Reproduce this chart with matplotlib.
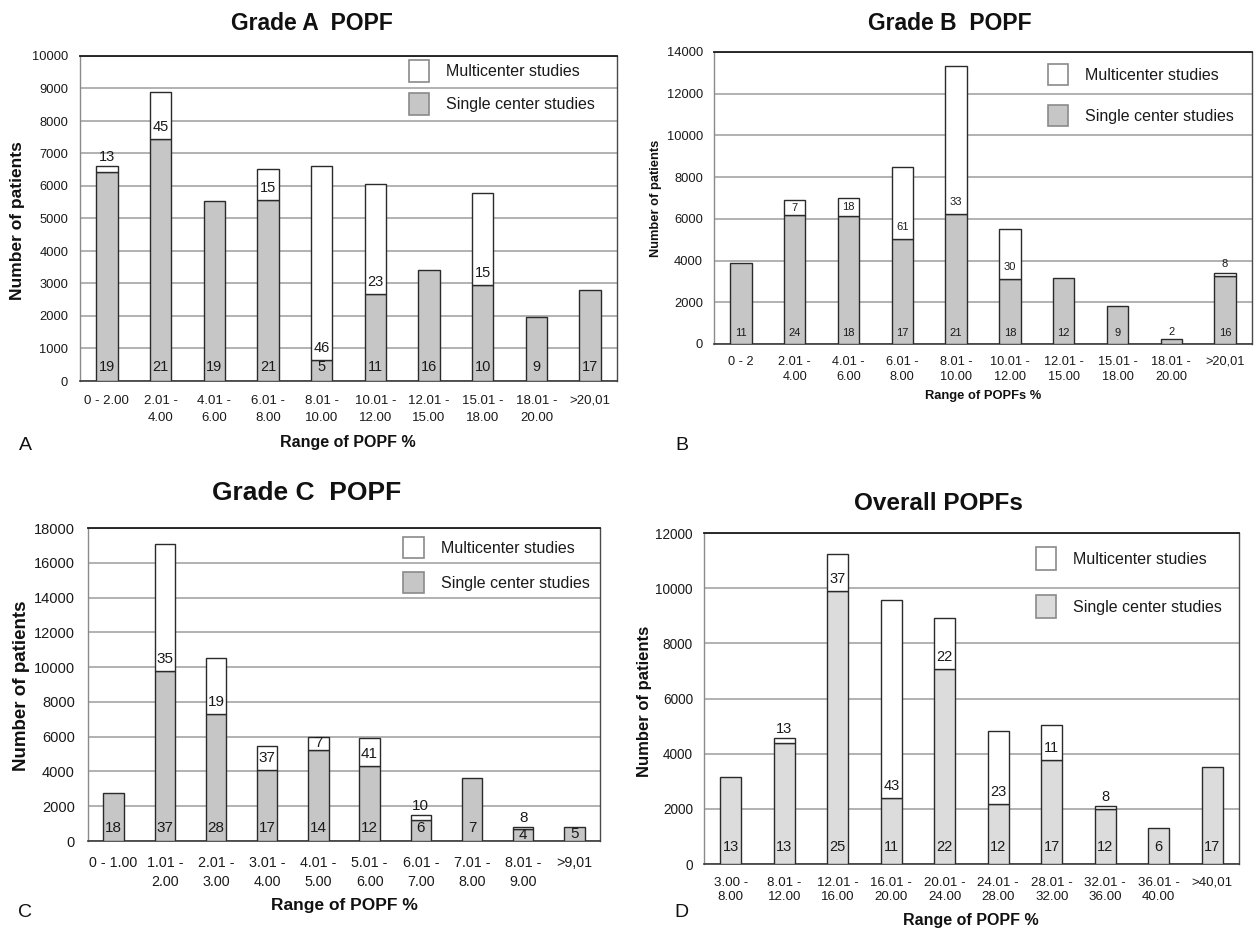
import matplotlib
matplotlib.use('Agg')
import matplotlib.pyplot as plt
from matplotlib.patches import Rectangle
import numpy as np

plt.rcParams['font.family'] = ['Liberation Sans', 'DejaVu Sans']

# ---------------- data ----------------
A_cats = ['0 - 2.00', '2.01 -\n4.00', '4.01 -\n6.00', '6.01 -\n8.00', '8.01 -\n10.00',
          '10.01 -\n12.00', '12.01 -\n15.00', '15.01 -\n18.00', '18.01 -\n20.00', '>20,01']
A_single = [6420, 7435, 5540, 5570, 650, 2665, 3415, 2955, 1980, 2800]
A_multi = [200, 1465, 0, 950, 5975, 3385, 0, 2820, 0, 0]
A_single_n = [19, 21, 19, 21, 5, 11, 16, 10, 9, 17]
A_multi_n = [13, 45, None, 15, 46, 23, None, 15, None, None]

B_cats = ['0 - 2', '2.01 -\n4.00', '4.01 -\n6.00', '6.01 -\n8.00', '8.01 -\n10.00',
          '10.01 -\n12.00', '12.01 -\n15.00', '15.01 -\n18.00', '18.01 -\n20.00', '>20,01']
B_single = [3900, 6180, 6140, 5020, 6230, 3120, 3180, 1820, 240, 3260]
B_multi = [0, 720, 850, 3450, 7110, 2410, 0, 0, 0, 130]
B_single_n = [11, 24, 18, 17, 21, 18, 12, 9, 2, 16]
B_multi_n = [None, 7, 18, 61, 33, 30, None, None, None, 8]

C_cats = ['0 - 1.00', '1.01 -\n2.00', '2.01 -\n3.00', '3.01 -\n4.00', '4.01 -\n5.00',
          '5.01 -\n6.00', '6.01 -\n7.00', '7.01 -\n8.00', '8.01 -\n9.00', '>9,01']
C_single = [2780, 9780, 7290, 4080, 5230, 4310, 1210, 3600, 670, 820]
C_multi = [0, 7300, 3210, 1380, 770, 1630, 270, 0, 150, 0]
C_single_n = [18, 37, 28, 17, 14, 12, 6, 7, 4, 5]
C_multi_n = [None, 35, 19, 37, 7, 41, 10, None, 8, None]

D_cats = ['3.00 -\n8.00', '8.01 -\n12.00', '12.01 -\n16.00', '16.01 -\n20.00', '20.01 -\n24.00',
          '24.01 -\n28.00', '28.01 -\n32.00', '32.01 -\n36.00', '36.01 -\n40.00', '>40,01']
D_single = [3170, 4380, 9900, 2380, 7060, 2180, 3770, 1980, 1290, 3510]
D_multi = [0, 180, 1340, 7190, 1870, 2650, 1260, 140, 0, 0]
D_single_n = [13, 13, 25, 11, 22, 12, 17, 12, 6, 17]
D_multi_n = [None, 13, 37, 43, 22, 23, 11, 8, None, None]

legend_labels = ['Multicenter studies', 'Single center studies']

# ---------------- layout ----------------
W, H = 1258, 930
fig = plt.figure(figsize=(W / 100, H / 100), dpi=100)
fig.patch.set_facecolor('white')


def fx(x):
    return x / W


def fy(y):
    return 1 - y / H


PX = 0.72  # points per pixel
EDGE = '#2a2a2a'
GRID = '#9c9c9c'

panels = [
    dict(cats=A_cats, single=A_single, multi=A_multi, sn=A_single_n, mn=A_multi_n,
         box=(80, 56, 617, 381), ymax=10000, ystep=1000, gray='#c6c6c6',
         title='Grade A  POPF', tpos=(312, 23), tsize=16.5,
         ylabel='Number of patients', ylpos=(18, 221), ylsize=12.5,
         xlabel='Range of POPF %', xlpos=(348, 442), xlsize=11.5,
         letter='A', lpos=(25, 445),
         ytsize=9.3, xtsize=9.5, xtpad=10, ytpad=8.5, lsp=1.55,
         bsize=10.5, s_off=14,
         leg=dict(x=409, y1=60, y2=93, w=20, h=22, tx=446)),
    dict(cats=B_cats, single=B_single, multi=B_multi, sn=B_single_n, mn=B_multi_n,
         box=(714, 52, 1252, 344), ymax=14000, ystep=2000, gray='#c6c6c6',
         title='Grade B  POPF', tpos=(950, 23), tsize=16.5,
         ylabel='Number of patients', ylpos=(656, 198), ylsize=9.3,
         xlabel='Range of POPFs %', xlpos=(983, 396), xlsize=9.3,
         letter='B', lpos=(682, 445),
         ytsize=9.3, xtsize=9.2, xtpad=8.5, ytpad=8, lsp=1.35,
         bsize=8, s_off=11,
         leg=dict(x=1048, y1=64, y2=105, w=20, h=21, tx=1085)),
    dict(cats=C_cats, single=C_single, multi=C_multi, sn=C_single_n, mn=C_multi_n,
         box=(88, 528, 600, 841), ymax=18000, ystep=2000, gray='#c6c6c6',
         title='Grade C  POPF', tpos=(307, 493), tsize=19,
         ylabel='Number of patients', ylpos=(22, 686), ylsize=13.5,
         xlabel='Range of POPF %', xlpos=(344, 905), xlsize=12.5,
         letter='C', lpos=(25, 912),
         ytsize=10.5, xtsize=10.3, xtpad=10.5, ytpad=9.4, lsp=1.5,
         bsize=11, s_off=13,
         leg=dict(x=403, y1=537, y2=572, w=21, h=21, tx=441)),
    dict(cats=D_cats, single=D_single, multi=D_multi, sn=D_single_n, mn=D_multi_n,
         box=(704, 533, 1239, 864), ymax=12000, ystep=2000, gray='#dcdcdc',
         title='Overall POPFs', tpos=(938, 503), tsize=17.5,
         ylabel='Number of patients', ylpos=(644, 701), ylsize=12,
         xlabel='Range of POPF %', xlpos=(971, 920), xlsize=11.5,
         letter='D', lpos=(681, 912),
         ytsize=9.8, xtsize=9.6, xtpad=9, ytpad=8, lsp=1.3,
         bsize=10.5, s_off=17,
         leg=dict(x=1036, y1=547, y2=595, w=20, h=23, tx=1073)),
]


def draw_panel(p):
    l, t, r, b = p['box']
    ax = fig.add_axes([fx(l), fy(b), (r - l) / W, (b - t) / H])
    n = len(p['cats'])
    x = np.arange(n)
    single = np.array(p['single'], dtype=float)
    multi = np.array(p['multi'], dtype=float)
    ax.bar(x, single, width=0.4, color=p['gray'], edgecolor=EDGE, linewidth=1.0, zorder=3)
    mask = multi > 0
    ax.bar(x[mask], multi[mask], bottom=single[mask], width=0.4, color='white',
           edgecolor=EDGE, linewidth=1.0, zorder=3)
    ax.set_xlim(-0.5, n - 0.5)
    ax.set_ylim(0, p['ymax'])
    ax.set_yticks(np.arange(0, p['ymax'] + 1, p['ystep']))
    ax.yaxis.grid(True, color=GRID, linewidth=1.1, zorder=0)
    ax.set_axisbelow(True)
    ax.set_xticks(x)
    ax.set_xticklabels(p['cats'], fontsize=p['xtsize'], linespacing=p['lsp'], color='#1a1a1a')
    ax.tick_params(axis='x', length=0, pad=p['xtpad'])
    ax.tick_params(axis='y', length=0, pad=p['ytpad'], labelsize=p['ytsize'], labelcolor='#1a1a1a')
    ax.spines['top'].set_color('#1a1a1a')
    ax.spines['top'].set_linewidth(1.3)
    ax.spines['bottom'].set_color('#3a3a3a')
    ax.spines['bottom'].set_linewidth(1.2)
    ax.spines['left'].set_color('#8a8a8a')
    ax.spines['left'].set_linewidth(1.0)
    ax.spines['right'].set_color('#4a4a4a')
    ax.spines['right'].set_linewidth(1.0)

    ppu = (b - t) / p['ymax']  # pixels per unit
    fs = p['bsize']
    for i in range(n):
        s_px = single[i] * ppu
        sn = p['sn'][i]
        if sn is not None:
            if s_px < 8:
                ax.annotate(str(sn), (x[i], single[i]), xytext=(0, 7 * PX),
                            textcoords='offset points', ha='center', va='center',
                            fontsize=fs, color='#1a1a1a', zorder=5)
            elif s_px < 16:
                ax.annotate(str(sn), (x[i], single[i] / 2), ha='center', va='center',
                            fontsize=fs, color='#1a1a1a', zorder=5)
            else:
                ax.annotate(str(sn), (x[i], 0), xytext=(0, p['s_off'] * PX),
                            textcoords='offset points', ha='center', va='center',
                            fontsize=fs, color='#1a1a1a', zorder=5)
        mn = p['mn'][i]
        if mn is not None:
            m_px = multi[i] * ppu
            if m_px < 8:
                ax.annotate(str(mn), (x[i], single[i] + multi[i]), xytext=(0, 9 * PX),
                            textcoords='offset points', ha='center', va='center',
                            fontsize=fs, color='#1a1a1a', zorder=5)
            elif m_px < 25:
                ax.annotate(str(mn), (x[i], single[i] + multi[i] / 2), ha='center', va='center',
                            fontsize=fs, color='#1a1a1a', zorder=5)
            else:
                ax.annotate(str(mn), (x[i], single[i]), xytext=(0, 12 * PX),
                            textcoords='offset points', ha='center', va='center',
                            fontsize=fs, color='#1a1a1a', zorder=5)

    # titles and labels
    fig.text(fx(p['tpos'][0]), fy(p['tpos'][1]), p['title'], ha='center', va='center',
             fontsize=p['tsize'], fontweight='bold', color='#111111')
    fig.text(fx(p['ylpos'][0]), fy(p['ylpos'][1]), p['ylabel'], ha='center', va='center',
             rotation=90, fontsize=p['ylsize'], fontweight='bold', color='#111111')
    fig.text(fx(p['xlpos'][0]), fy(p['xlpos'][1]), p['xlabel'], ha='center', va='center',
             fontsize=p['xlsize'], fontweight='bold', color='#111111')
    fig.text(fx(p['lpos'][0]), fy(p['lpos'][1]), p['letter'], ha='center', va='center',
             fontsize=14, color='#111111')

    # legend
    lg = p['leg']
    for yy, fc, lab in ((lg['y1'], 'white', legend_labels[0]), (lg['y2'], p['gray'], legend_labels[1])):
        rect = Rectangle((fx(lg['x']), fy(yy + lg['h'])), lg['w'] / W, lg['h'] / H,
                         transform=fig.transFigure, facecolor=fc, edgecolor='#8a8a8a',
                         linewidth=1.2, zorder=10)
        fig.add_artist(rect)
        fig.text(fx(lg['tx']), fy(yy + lg['h'] / 2 + 1), lab, ha='left', va='center',
                 fontsize=11.5, color='#1a1a1a')
    return ax


for p in panels:
    draw_panel(p)

fig.savefig('out.png', dpi=100, facecolor='white')
